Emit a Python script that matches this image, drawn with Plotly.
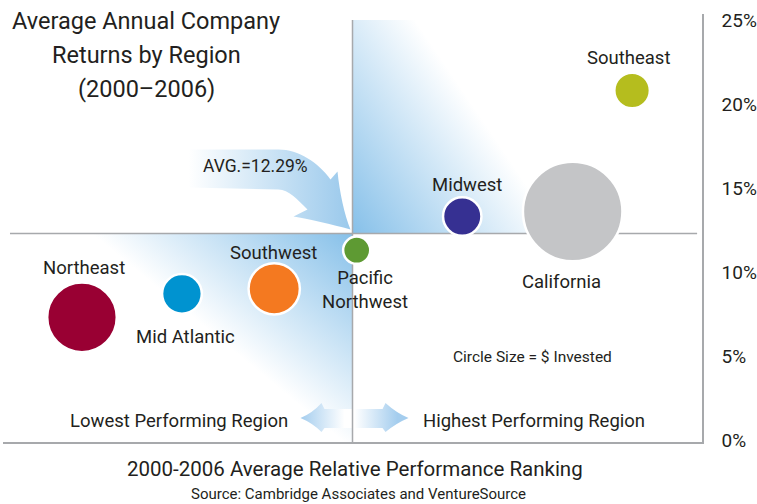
import base64
import plotly.graph_objects as go

# ---------------- data ----------------
regions = ["Northeast", "Mid Atlantic", "Southwest", "Pacific<br>Northwest",
           "Midwest", "California", "Southeast"]
ranking = [11.3, 25.6, 38.8, 50.6, 65.7, 81.5, 90.0]        # relative performance ranking (x)
returns = [7.3, 8.7, 9.0, 11.3, 13.3, 13.6, 20.8]           # avg annual return, %
invested = [46, 15, 25, 7, 14, 94, 12]                       # $ invested (relative, est.)
colors = ["#990033", "#0093D0", "#F47920", "#5E9A33", "#363092", "#C4C5C7", "#B5BD1E"]
avg_return = 12.29
mid_rank = 50
y_ticks = [0, 5, 10, 15, 20, 25]
y_tick_text = ["0%", "5%", "10%", "15%", "20%", "25%"]

# label offsets (px) relative to bubble centre: (dx, dy_up)
label_offsets = [(2, 49), (4, -43), (-1, 36), (8, -40), (5, 32), (-11, -70), (-4, 33)]

# ---------------- layout geometry ----------------
W, H = 757, 504
L, R, T, B = 3, 55, 14, 62
PW, PH = W - L - R, H - T - B
X_RANGE = [0, 100]
Y_RANGE = [-2 / 16.8, (440 - 14) / 16.8]


def px(x):
    return L + (x - X_RANGE[0]) / (X_RANGE[1] - X_RANGE[0]) * PW


def py(y):
    return T + (Y_RANGE[1] - y) / (Y_RANGE[1] - Y_RANGE[0]) * PH


def paper_x(p):
    return (p - L) / PW


def paper_y(p):
    return (H - B - p) / PH


cx, cy = px(mid_rank), py(avg_return)
bottom = H - B
FONT = "Roboto"
TXT = "#231F20"

# ---------------- decorative gradients (SVG image) ----------------
def P(dx, dy):
    return f"{cx + dx:.1f},{cy + dy:.1f}"

ay = bottom - 24
svg = f'''<svg xmlns="http://www.w3.org/2000/svg" width="{PW}" height="{PH}" viewBox="{L} {T} {PW} {PH}" preserveAspectRatio="none">
<defs>
<linearGradient id="gUR" gradientUnits="userSpaceOnUse" x1="{cx:.1f}" y1="{cy:.1f}" x2="{cx+142:.1f}" y2="{cy-96:.1f}">
<stop offset="0" stop-color="#86C0E9" stop-opacity="1"/><stop offset="1" stop-color="#86C0E9" stop-opacity="0"/></linearGradient>
<linearGradient id="gLL" gradientUnits="userSpaceOnUse" x1="{cx:.1f}" y1="{cy:.1f}" x2="{cx-106:.1f}" y2="{cy+128:.1f}">
<stop offset="0" stop-color="#86C0E9" stop-opacity="1"/><stop offset="1" stop-color="#86C0E9" stop-opacity="0"/></linearGradient>
<linearGradient id="gA" gradientUnits="userSpaceOnUse" x1="{cx-164:.1f}" y1="0" x2="{cx-5:.1f}" y2="0">
<stop offset="0" stop-color="#FFFFFF"/><stop offset="1" stop-color="#9CCAEC"/></linearGradient>
<linearGradient id="gBL" gradientUnits="userSpaceOnUse" x1="{cx-52:.1f}" y1="0" x2="{cx-8:.1f}" y2="0">
<stop offset="0" stop-color="#A4CDEE"/><stop offset="1" stop-color="#FFFFFF"/></linearGradient>
<linearGradient id="gBR" gradientUnits="userSpaceOnUse" x1="{cx+2:.1f}" y1="0" x2="{cx+45:.1f}" y2="0">
<stop offset="0" stop-color="#FFFFFF"/><stop offset="1" stop-color="#A4CDEE"/></linearGradient>
</defs>
<polygon fill="url(#gUR)" points="{cx:.1f},{py(25):.1f} {px(99.3):.1f},{py(25):.1f} {px(99.3):.1f},{cy:.1f} {cx:.1f},{cy:.1f}"/>
<polygon fill="url(#gLL)" points="{px(1.0):.1f},{cy:.1f} {cx:.1f},{cy:.1f} {cx:.1f},{bottom} {px(1.0):.1f},{bottom}"/>
<path fill="url(#gA)" d="M {P(-164,-84)} L {P(-74,-84)} C {P(-54,-84)} {P(-34,-71)} {P(-22,-54)} L {P(-15,-62)} C {P(-13,-42)} {P(-8,-18)} {P(-2,-4)} C {P(-20,-9)} {P(-45,-15)} {P(-59,-17)} L {P(-45,-24)} C {P(-55,-34)} {P(-64,-44)} {P(-74,-44)} L {P(-164,-46)} Z"/>
<path fill="url(#gBL)" d="M {cx:.1f},{ay-9} L {cx-28:.1f},{ay-9} L {cx-31:.1f},{ay-15} Q {cx-40:.1f},{ay-5} {cx-52:.1f},{ay} Q {cx-40:.1f},{ay+5} {cx-31:.1f},{ay+14} L {cx-28:.1f},{ay+10} L {cx:.1f},{ay+10} Z"/>
<path fill="url(#gBR)" d="M {cx:.1f},{ay-9} L {cx+30:.1f},{ay-9} L {cx+33:.1f},{ay-15} Q {cx+44:.1f},{ay-5} {cx+56:.1f},{ay} Q {cx+44:.1f},{ay+5} {cx+33:.1f},{ay+14} L {cx+30:.1f},{ay+10} L {cx:.1f},{ay+10} Z"/>
</svg>'''
svg_uri = "data:image/svg+xml;base64," + base64.b64encode(svg.encode()).decode()

# ---------------- figure ----------------
max_d = 99.5
sizeref = 2 * max(invested) / max_d ** 2

fig = go.Figure()
fig.add_trace(go.Scatter(
    x=ranking, y=returns, mode="markers",
    marker=dict(size=invested, sizemode="area", sizeref=sizeref, color=colors,
                opacity=1, line=dict(color="white", width=2.5)),
    hoverinfo="skip", showlegend=False,
))

annotations = []
for name, xv, yv, (dx, dy) in zip(regions, ranking, returns, label_offsets):
    annotations.append(dict(x=xv, y=yv, xref="x", yref="y", text=name, showarrow=False,
                            xshift=dx, yshift=dy, font=dict(family=FONT, size=18.5, color=TXT)))


def add_text(text, xp, ypx, size, anchor="center"):
    annotations.append(dict(x=paper_x(xp), y=paper_y(ypx), xref="paper", yref="paper",
                            text=text, showarrow=False, xanchor=anchor, yanchor="middle",
                            font=dict(family=FONT, size=size, color=TXT)))


add_text("Average Annual Company", 146, 21, 23.5)
add_text("Returns by Region", 146, 55, 23.5)
add_text("(2000–2006)", 146, 89, 23.5)
add_text(f"AVG.={avg_return}%", 255, 166, 17.5)
add_text("Circle Size = $ Invested", 532, 357, 15.5)
add_text("Lowest Performing Region", 179, 421, 18.5)
add_text("Highest Performing Region", 534, 421, 18.5)
add_text("2000-2006 Average Relative Performance Ranking", 355, 469, 20.5)
add_text("Source: Cambridge Associates and VentureSource", 358, 494, 15)

line_col = "#A7A9AC"
shapes = [
    dict(type="line", xref="x", yref="y", x0=1.0, x1=99.3, y0=avg_return, y1=avg_return,
         line=dict(color=line_col, width=1.5), layer="below"),
    dict(type="line", xref="x", yref="y", x0=mid_rank, x1=mid_rank, y0=Y_RANGE[0], y1=25,
         line=dict(color=line_col, width=1.5), layer="below"),
]

fig.update_layout(
    width=W, height=H, margin=dict(l=L, r=R, t=T, b=B, autoexpand=False),
    paper_bgcolor="white", plot_bgcolor="rgba(0,0,0,0)",
    xaxis=dict(range=X_RANGE, showgrid=False, zeroline=False, showticklabels=False,
               ticks="", showline=True, linecolor=line_col, linewidth=1.5, fixedrange=True),
    yaxis=dict(range=Y_RANGE, side="right", showgrid=False, zeroline=False,
               tickvals=y_ticks, ticktext=y_tick_text, ticks="",
               ticklabelstandoff=14, showline=True, linecolor=line_col, linewidth=1.5,
               tickfont=dict(family=FONT, size=19, color=TXT), fixedrange=True),
    shapes=shapes, annotations=annotations,
    images=[dict(source=svg_uri, xref="paper", yref="paper", x=0, y=1, sizex=1, sizey=1,
                 xanchor="left", yanchor="top", sizing="stretch", layer="below")],
    showlegend=False,
)

fig.write_html("out.html", config={"displayModeBar": False},
               post_script="document.body.style.margin='0px';document.body.style.overflow='hidden';")
